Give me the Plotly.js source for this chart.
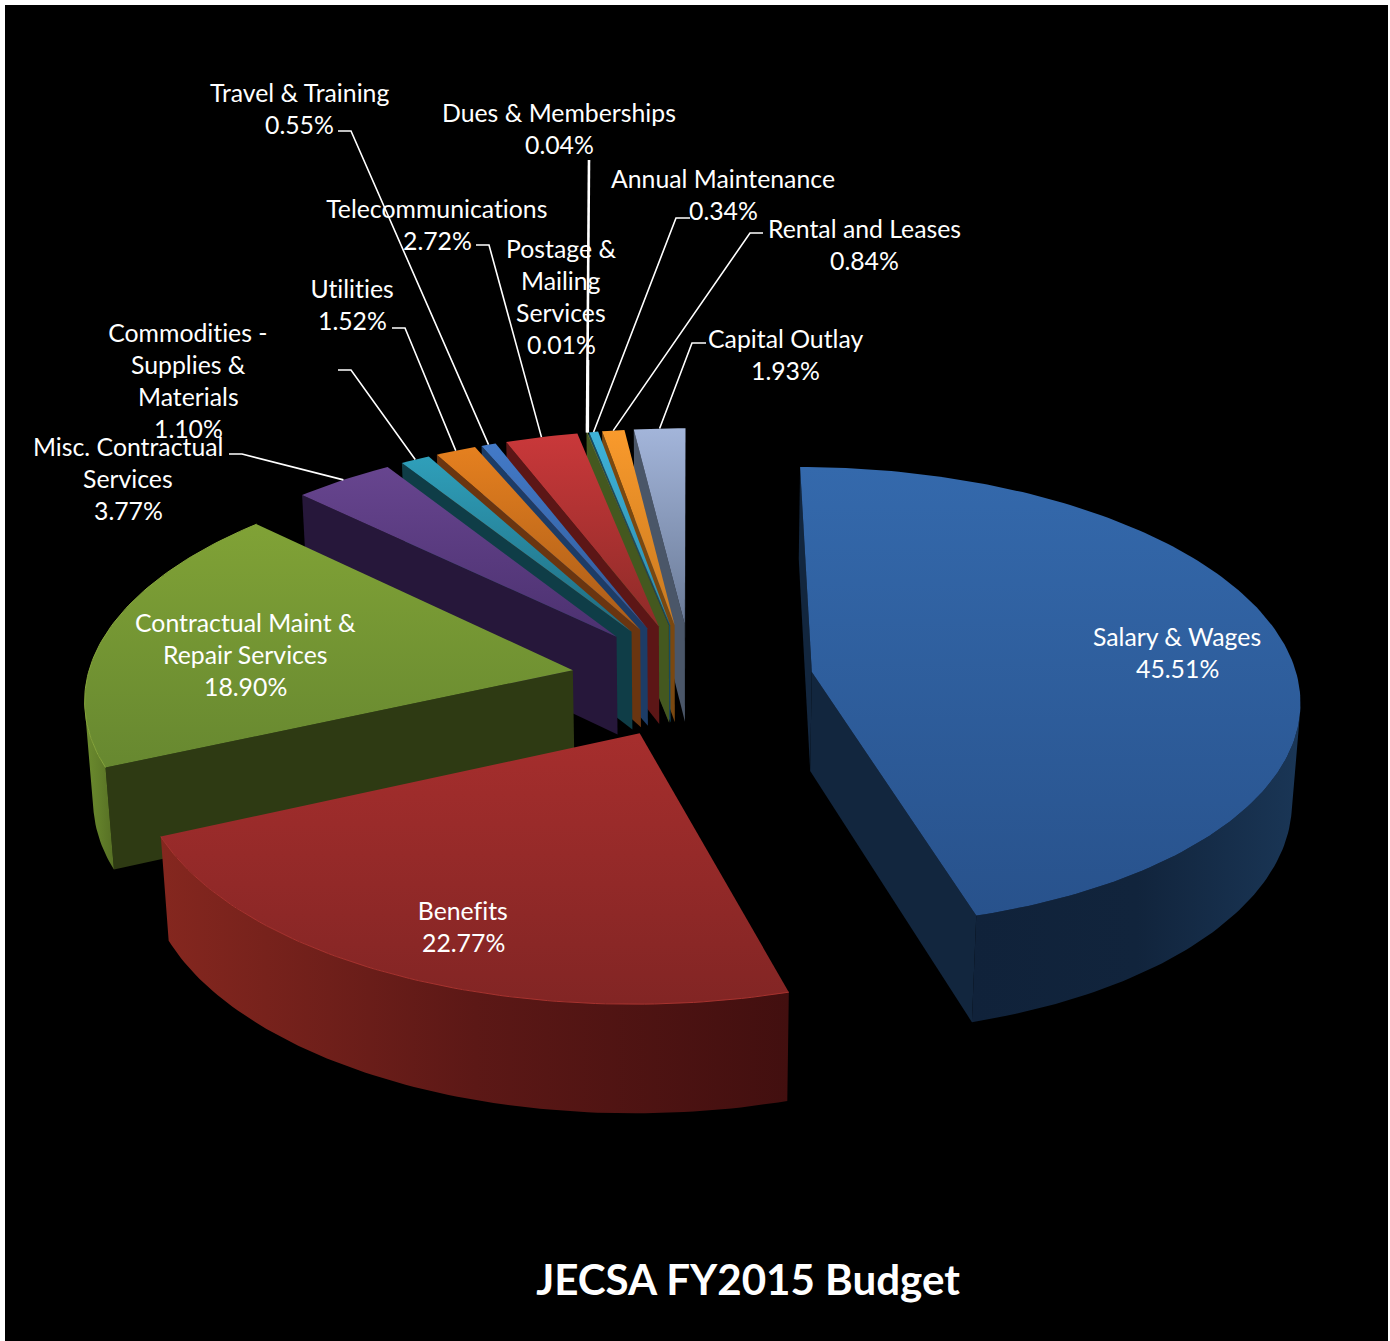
<!DOCTYPE html>
<html>
<head>
<meta charset="utf-8">
<script src="https://cdn.plot.ly/plotly-3.0.1.min.js"></script>
<style>html,body{margin:0;padding:0;background:#fff}#chart{width:1390px;height:1341px}
#chart text{font-variant-ligatures:none !important;font-feature-settings:"liga" 0,"clig" 0 !important}</style>
</head>
<body>
<div id="chart"></div>
<script>
// FY2015 budget shares, clockwise from twelve o'clock
const categories = ['Salary & Wages','Benefits','Contractual Maint &|Repair Services','Misc. Contractual|Services',
  'Commodities -|Supplies &|Materials','Utilities','Travel & Training','Telecommunications','Dues & Memberships',
  'Postage &|Mailing|Services','Annual Maintenance','Rental and Leases','Capital Outlay'];
const shares = [45.51,22.77,18.90,3.77,1.10,1.52,0.55,2.72,0.04,0.01,0.34,0.84,1.93];

// Slice colours: top surface (far, near), outer wall (left, middle, right), cut face, rim highlight
const topFar    = ['#3469ac','#a62e2d','#80a236','#67458f','#2f9fba','#e5801f','#437ac8','#c9383a','#5d7a30','#5a3c82','#3fb2d8','#f99a2c','#a3b5da'];
const topNear   = ['#28528c','#822524','#678830','#4c3170','#1f6c80','#a95b18','#2f5a98','#8e2b28','#4a6426','#46306a','#2a8cae','#c9791f','#6a7a96'];
const wallLeft  = ['#10223a','#85271f','#6c8c2e','#2c1c3e','#123f4a','#6c3610','#1f3e68','#5e1717','#43571f','#2c1c3e','#135066','#7a4810','#4c586c'];
const wallMid   = ['#11243c','#5c1816','#627f2a','#2c1c3e','#123f4a','#6c3610','#1f3e68','#5e1717','#43571f','#2c1c3e','#135066','#7a4810','#4c586c'];
const wallRight = ['#1a3656','#420f0f','#566f24','#2c1c3e','#123f4a','#6c3610','#1f3e68','#5e1717','#43571f','#2c1c3e','#135066','#7a4810','#4c586c'];
const faceCol   = ['#12263e','#3e0f0f','#2e3a13','#26173a','#0f3d47','#6a3510','#1d3c66','#5c1616','#44581f','#2c1c3e','#135066','#7a4810','#4a5668'];
const rimEdge   = [null,'#a8332f','#87a63c',null,null,null,null,null,null,null,null,null,null];

// Label placement: centre of the first text line
const labelX = [1177,463,245,128,188,352,299,437,559,561,723,864,785];
const labelY = [636,910,622,446,332,288,92,208,112,248,178,228,338];
// Leader line start, elbow and weight for the outside labels (null = label sits on the slice)
const leaderFrom = [null,null,null,[229,454],[338,370],[392,328],[338,131],[476,245],[589,160],[588,360],[690,218],[763,233],[706,343]];
const leaderElbow = [null,null,null,[242,454],[351,370],[405,328],[351,131],[489,245],[589,160],[588,360],[676,218],[750,233],[692,343]];
const leaderWidth = [0,0,0,1.6,1.6,1.6,1.6,1.6,2.6,2.6,1.6,1.6,1.6];

// Projection of the tilted, exploded pie onto the plot's pixel-scaled axes
const view = {cx:692, cy:680, scale:486, persp:0.109, tilt:0.471, height:0.207, drop:0.014, explode:0.25};
function project(X, Y, Z) {
  const w = 1 + view.persp * Y - view.drop * Z;
  return [view.cx + view.scale * X / w, view.cy - view.scale * (view.tilt * Y + view.height * Z) / w];
}

const total = shares.reduce((a, b) => a + b, 0);
let cursor = 0;
const slices = shares.map((v, i) => {
  const a0 = cursor / total * 2 * Math.PI;
  cursor += v;
  const a1 = cursor / total * 2 * Math.PI;
  const mid = (a0 + a1) / 2;
  return {i, a0, a1, mid, ox: view.explode * Math.sin(mid), oy: view.explode * Math.cos(mid)};
});
const rimPoint = (s, a, z) => project(s.ox + Math.sin(a), s.oy + Math.cos(a), z);
const hub = (s, z) => project(s.ox, s.oy, z);

// Signed screen area decides which way a wall is facing
function facing(points) {
  let sum = 0;
  points.forEach((p, i) => {
    const q = points[(i + 1) % points.length];
    sum += p[0] * q[1] - q[0] * p[1];
  });
  return sum;
}

function area(points, colors, direction) {
  const xs = points.map(p => p[0]).concat(points[0][0]);
  const ys = points.map(p => p[1]).concat(points[0][1]);
  const t = {x: xs, y: ys, mode: 'lines', fill: 'toself', hoverinfo: 'skip', showlegend: false,
             line: {width: 0, color: colors[0]}};
  if (colors.length > 1) {
    const axis = direction === 'horizontal' ? xs : ys;
    t.fillgradient = {type: direction, start: Math.min(...axis), stop: Math.max(...axis),
                      colorscale: colors.map((c, k) => [k / (colors.length - 1), c])};
  } else {
    t.fillcolor = colors[0];
  }
  return t;
}

const traces = [];
const DEG = Math.PI / 180;
// Far slices first so nearer ones paint over them
[...slices].sort((p, q) => Math.cos(q.mid) - Math.cos(p.mid)).forEach(s => {
  const i = s.i;
  // Cut faces, only the ones turned towards the viewer
  [[s.a0, -1], [s.a1, 1]].forEach(([a, sign]) => {
    const quad = [hub(s, 0), rimPoint(s, a, 0), rimPoint(s, a, -1), hub(s, -1)];
    if (facing(quad) * sign > 0) traces.push(area(quad, [faceCol[i]]));
  });
  // Outer wall: only the stretch of the arc turned towards the viewer
  const n = Math.max(4, Math.ceil((s.a1 - s.a0) / DEG));
  const angles = [];
  for (let k = 0; k <= n; k++) angles.push(s.a0 + (s.a1 - s.a0) * k / n);
  const upper = [], lower = [];
  for (let k = 0; k < n; k++) {
    const quad = [rimPoint(s, angles[k], 0), rimPoint(s, angles[k + 1], 0), rimPoint(s, angles[k + 1], -1), rimPoint(s, angles[k], -1)];
    if (facing(quad) < 0) {
      if (!upper.length) { upper.push(quad[0]); lower.push(quad[3]); }
      upper.push(quad[1]); lower.push(quad[2]);
    }
  }
  if (upper.length) {
    traces.push(area(upper.concat(lower.reverse()), [wallLeft[i], wallMid[i], wallRight[i]], 'horizontal'));
  }
  const arc = angles.map(a => rimPoint(s, a, 0));
  traces.push(area([hub(s, 0)].concat(arc), [topFar[i], topNear[i]], 'vertical'));
  if (rimEdge[i]) {
    traces.push({x: arc.map(p => p[0]), y: arc.map(p => p[1]), mode: 'lines', hoverinfo: 'skip', showlegend: false,
                 line: {color: rimEdge[i], width: 1}});
  }
});

// Leader lines run from the label to the middle of the slice's outer edge
slices.forEach(s => {
  if (!leaderFrom[s.i]) return;
  const end = rimPoint(s, s.mid, 0), a = leaderFrom[s.i], b = leaderElbow[s.i];
  traces.push({x: [a[0], b[0], end[0]], y: [a[1], b[1], end[1]], mode: 'lines', hoverinfo: 'skip',
               showlegend: false, line: {color: '#ffffff', width: leaderWidth[s.i]}});
});

const lineGap = 32.3;
const annotations = [];
categories.forEach((name, i) => {
  const lines = name.split('|').concat(shares[i].toFixed(2) + '%');
  lines.forEach((text, j) => annotations.push({
    text, x: labelX[i], y: labelY[i] + j * lineGap, xref: 'x', yref: 'y', showarrow: false,
    xanchor: 'center', yanchor: 'middle', font: {family: 'Lato', size: 24.8, color: '#ffffff'}
  }));
});

Plotly.newPlot('chart', traces, {
  width: 1390, height: 1341,
  margin: {l: 5, r: 2, t: 5, b: 0, pad: 0},
  paper_bgcolor: '#ffffff', plot_bgcolor: '#000000',
  showlegend: false,
  title: {text: 'JECSA FY2015 Budget', x: 748 / 1390, y: 1 - 1280 / 1341, xanchor: 'center', yanchor: 'middle',
          font: {family: 'Lato', size: 42.1, color: '#ffffff', weight: 700}},
  xaxis: {range: [5, 1388], visible: false, fixedrange: true},
  yaxis: {range: [1341, 5], visible: false, fixedrange: true},
  annotations
}, {displayModeBar: false, staticPlot: true});
</script>
</body>
</html>
